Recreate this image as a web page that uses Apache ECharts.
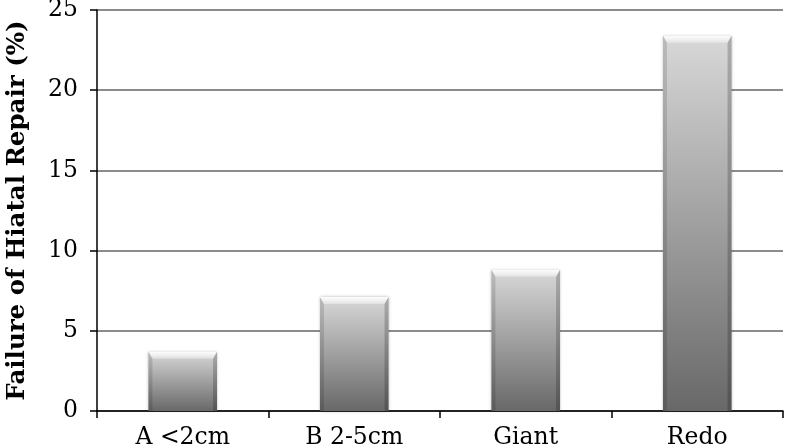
<!DOCTYPE html>
<html><head><meta charset="utf-8">
<script src="https://cdn.jsdelivr.net/npm/echarts@6/dist/echarts.min.js"></script>
<style>html,body{margin:0;padding:0;background:#fff}#c{width:786px;height:448px}</style>
</head><body><div id="c"></div>
<script>
var categories = ["A <2cm", "B 2-5cm", "Giant", "Redo"];
var values = [3.7, 7.1, 8.8, 23.4];
var yTicks = [0, 5, 10, 15, 20, 25];

var chart = echarts.init(document.getElementById('c'), null, {renderer: 'canvas'});
var font = 'DejaVu Serif';
var barGrad = new echarts.graphic.LinearGradient(0, 0, 0, 1, [
  {offset: 0, color: '#d8d8d8'},
  {offset: 1, color: '#686868'}
]);
var BAR_RATIO = 0.4;
function bevel(params, api) {
  var i = api.value(0), v = api.value(1);
  var top = api.coord([i, v]);
  var base = api.coord([i, 0]);
  var w = api.size([1, 0])[0] * BAR_RATIO;
  var x0 = top[0] - w / 2, x1 = top[0] + w / 2, y0 = top[1], y1 = base[1];
  var b = 7, s = 4;
  return {
    type: 'group',
    children: [
      {type: 'polygon', shape: {points: [[x0, y0], [x1, y0], [x1 - s, y0 + b], [x0 + s, y0 + b]]},
        style: {fill: new echarts.graphic.LinearGradient(0, 0, 0, 1, [
          {offset: 0, color: 'rgba(255,255,255,0.95)'}, {offset: 1, color: 'rgba(255,255,255,0.35)'}])}},
      {type: 'polygon', shape: {points: [[x0, y0], [x0 + s, y0 + b], [x0 + s, y1], [x0, y1]]},
        style: {fill: 'rgba(0,0,0,0.13)'}},
      {type: 'polygon', shape: {points: [[x1, y0], [x1 - s, y0 + b], [x1 - s, y1], [x1, y1]]},
        style: {fill: 'rgba(0,0,0,0.2)'}}
    ]
  };
}
chart.setOption({
  animation: false,
  grid: {left: 97, right: 3, top: 10, bottom: 37, containLabel: false, outerBoundsMode: 'none'},
  xAxis: {
    type: 'category', data: categories,
    axisLine: {lineStyle: {color: '#000', width: 1.5}},
    axisTick: {show: true, length: 7, lineStyle: {color: '#000', width: 1.5}},
    axisLabel: {color: '#000', fontFamily: font, fontSize: 23.5, margin: 15}
  },
  yAxis: {
    type: 'value', min: yTicks[0], max: yTicks[yTicks.length - 1], interval: 5,
    name: 'Failure of Hiatal Repair (%)', nameLocation: 'middle', nameGap: 67,
    nameTextStyle: {color: '#000', fontFamily: font, fontWeight: 'bold', fontSize: 24.5},
    axisLine: {show: true, lineStyle: {color: '#000', width: 1.5}},
    axisTick: {show: true, length: 7, lineStyle: {color: '#000', width: 1.5}},
    axisLabel: {color: '#000', fontFamily: font, fontSize: 23.5, margin: 19},
    splitLine: {lineStyle: {color: '#8c8c8c', width: 2}}
  },
  series: [{
    type: 'bar', data: values, barWidth: (BAR_RATIO * 100) + '%',
    itemStyle: {color: barGrad, shadowColor: 'rgba(0,0,0,0.3)', shadowBlur: 3}
  }, {
    type: 'custom', renderItem: bevel, data: values.map(function (v, i) { return [i, v]; }),
    encode: {x: 0, y: 1}, silent: true, z: 3
  }]
});
</script></body></html>
